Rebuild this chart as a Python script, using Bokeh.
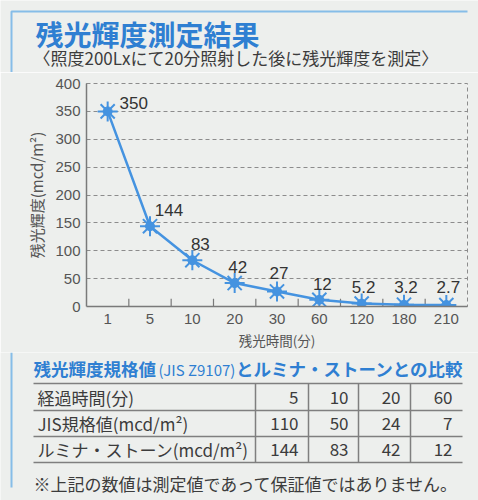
from bokeh.plotting import figure
from bokeh.models import Range1d, ColumnDataSource, BoxAnnotation, SingleIntervalTicker
from bokeh.transform import dodge
from bokeh.layouts import column
from bokeh.core.properties import value
from bokeh.embed import file_html
from bokeh.resources import INLINE

# ---------------- data ----------------
title_text = "残光輝度測定結果"
subtitle_text = "〈照度200Lxにて20分照射した後に残光輝度を測定〉"
x_axis_label = "残光時間(分)"
y_axis_label = "残光輝度(mcd/m²)"

times = ["1", "5", "10", "20", "30", "60", "120", "180", "210"]
luminance = [350, 144, 83, 42, 27, 12, 5.2, 3.2, 2.7]

table_head_1 = "残光輝度規格値"
table_head_2 = "(JIS Z9107)"
table_head_3 = "とルミナ・ストーンとの比較"
row_labels = ["経過時間(分)", "JIS規格値(mcd/m²)", "ルミナ・ストーン(mcd/m²)"]
elapsed = [5, 10, 20, 60]
jis_values = [110, 50, 24, 7]
lumina_values = [144, 83, 42, 12]
note_text = "※上記の数値は測定値であって保証値ではありません。"

# ---------------- styles ----------------
BG = "#edefed"
BLUE = "#2f7fd2"
LINE_BLUE = "#4593e0"
BORDER_BLUE = "#86bde8"
TXT = "#3c3c3c"
JP_NAME = "Noto Sans CJK JP"
NUM_NAME = "Liberation Sans"
JP = value(JP_NAME)
NUM = value(NUM_NAME)
W = 478


def text_panel(h):
    p = figure(width=W, height=h, x_range=Range1d(0, W), y_range=Range1d(h, 0),
               x_axis_location=None, y_axis_location=None, toolbar_location=None,
               output_backend="svg", min_border=0)
    p.grid.visible = False
    p.outline_line_color = None
    p.background_fill_color = BG
    p.border_fill_color = BG
    p.frame_align = False
    return p


# ---------------- title panel ----------------
H0 = 72
p0 = text_panel(H0)
p0.line(x=[11, 11, 467], y=[H0, 11, 11], line_color=BORDER_BLUE, line_width=2)
p0.text(x=[35], y=[33], text=[title_text], text_font=JP, text_font_size="28px",
        text_font_style="bold", text_color=BLUE, text_baseline="middle")
p0.text(x=[33], y=[57], text=[subtitle_text], text_font=JP, text_font_size="17px",
        text_color=TXT, text_baseline="middle")

# ---------------- chart ----------------
H1 = 280
p1 = figure(width=W, height=H1, x_range=times, y_range=Range1d(0, 400),
            toolbar_location=None, output_backend="svg",
            min_border_left=86, min_border_right=11, min_border_top=11, min_border_bottom=40)
p1.frame_align = False
p1.background_fill_color = BG
p1.border_fill_color = BG
p1.add_layout(BoxAnnotation(left=10, right=12, top=0, bottom=H1,
                            left_units="canvas", right_units="canvas",
                            top_units="canvas", bottom_units="canvas",
                            fill_color=BORDER_BLUE, fill_alpha=1, line_color=None))
p1.outline_line_color = "#8c8c8c"
p1.outline_line_dash = "4 3"
p1.xgrid.visible = False
p1.ygrid.grid_line_color = "#8c8c8c"
p1.ygrid.grid_line_dash = "4 3"
p1.yaxis.ticker = SingleIntervalTicker(interval=50)

for ax in (p1.xaxis[0], p1.yaxis[0]):
    ax.axis_line_color = "#7a7a7a"
    ax.axis_line_width = 1.5
    ax.major_tick_in = 0
    ax.major_tick_out = 0
    ax.minor_tick_in = 0
    ax.minor_tick_out = 0
    ax.major_label_text_font = NUM_NAME
    ax.major_label_text_font_size = "15px"
    ax.major_label_text_color = "#555555"
    ax.axis_label_text_font = JP_NAME
    ax.axis_label_text_font_style = "normal"
    ax.axis_label_text_color = "#555555"

p1.xaxis.axis_label = x_axis_label
p1.yaxis.axis_label = y_axis_label
p1.xaxis.axis_label_text_font_size = "13.5px"
p1.yaxis.axis_label_text_font_size = "15px"
p1.xaxis.major_label_standoff = 7
p1.xaxis.axis_label_standoff = 3
p1.yaxis.major_label_standoff = 6
p1.yaxis.axis_label_standoff = 5

src = ColumnDataSource(dict(
    t=times, v=luminance,
    lab=[f"{v:g}" for v in luminance],
    dx=[26, 19, 8, 3, 2, 3, 2, 2, 2],
    dy=[-8, -16, -16, -16, -18, -16, -17, -18, -18],
))

# boundary ticks on x axis
bsrc = ColumnDataSource(dict(t=times[1:], y0=[0] * (len(times) - 1), y1=[14] * (len(times) - 1)))
p1.segment(x0=dodge("t", -0.5, range=p1.x_range), x1=dodge("t", -0.5, range=p1.x_range),
           y0="y0", y1="y1", source=bsrc, line_color="#7a7a7a", line_width=1.2)

p1.line(x="t", y="v", source=src, line_color=LINE_BLUE, line_width=2.5)
p1.scatter(x="t", y="v", source=src, marker="asterisk", size=20, line_color=LINE_BLUE, line_width=2)
p1.scatter(x="t", y="v", source=src, marker="circle", size=9, fill_color=LINE_BLUE, line_color=LINE_BLUE)
p1.text(x="t", y="v", text="lab", source=src, x_offset="dx", y_offset="dy",
        text_font=NUM, text_font_size="17px", text_color="#333333",
        text_align="center", text_baseline="middle")

# ---------------- table panel ----------------
H2 = 148
p2 = text_panel(H2)
p2.line(x=[11, 11], y=[0, 135], line_color=BORDER_BLUE, line_width=2)

p2.text(x=[33], y=[16], text=[table_head_1], text_font=JP, text_font_size="17.5px",
        text_font_style="bold", text_color=BLUE, text_baseline="middle")
p2.text(x=[158], y=[17], text=[table_head_2], text_font=JP, text_font_size="15px",
        text_color=BLUE, text_baseline="middle")
p2.text(x=[463], y=[16], text=[table_head_3], text_font=JP, text_font_size="17.5px",
        text_font_style="bold", text_color=BLUE, text_baseline="middle", text_align="right")

col_edges = [33, 255, 308, 358, 410, 462]
row_lines = [31, 58, 84, 110]
p2.multi_line(xs=[[col_edges[0], col_edges[-1]]] * len(row_lines),
              ys=[[yy, yy] for yy in row_lines], line_color="#7f7f7f", line_width=1.5)
p2.multi_line(xs=[[xx, xx] for xx in col_edges[1:-1]],
              ys=[[row_lines[0], row_lines[-1]]] * (len(col_edges) - 2),
              line_color="#7f7f7f", line_width=1.5)

row_centers = [(row_lines[i] + row_lines[i + 1]) / 2 for i in range(3)]
p2.text(x=[col_edges[0] + 4] * 3, y=row_centers, text=row_labels, text_font=JP,
        text_font_size="17px", text_color=TXT, text_baseline="middle")

rows = [elapsed, jis_values, lumina_values]
cx, cy, ct = [], [], []
for r, vals in enumerate(rows):
    for c, v in enumerate(vals):
        cx.append(col_edges[c + 2] - 10)
        cy.append(row_centers[r])
        ct.append(str(v))
p2.text(x=cx, y=cy, text=ct, text_font=JP, text_font_size="17px", text_color=TXT,
        text_baseline="middle", text_align="right")

p2.text(x=[33], y=[131], text=[note_text], text_font=JP, text_font_size="17px",
        text_color=TXT, text_baseline="middle")

layout = column(p0, p1, p2)
open("out.html", "w").write(file_html(layout, INLINE))
